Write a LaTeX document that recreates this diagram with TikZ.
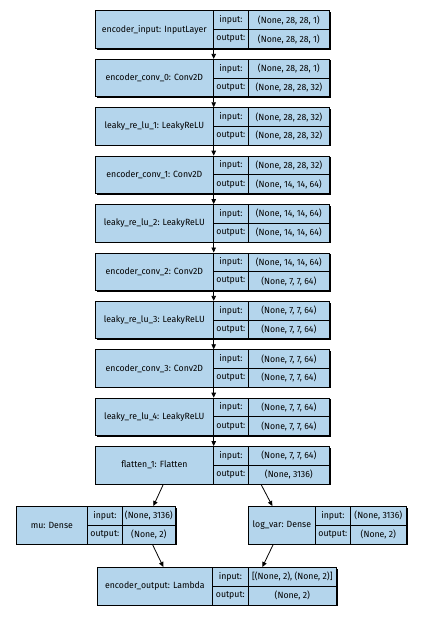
\documentclass[tikz,border=0pt]{standalone}
\usepackage{fontspec}
\setmainfont{Fira Sans}[FakeStretch=0.97]
\usetikzlibrary{arrows.meta,calc}
\definecolor{cellblue}{HTML}{B4D5EC}
\tikzset{
  cell/.style={draw=black, line width=0.7pt, fill=cellblue, inner sep=0pt,
    anchor=north west, font=\fontsize{9}{10}\selectfont, text=black},
  conn/.style={-{Triangle[length=5pt,width=4.5pt]}, line width=0.8pt},
}
\def\bh{37.5}
\newcommand\layerbox[9]{% id, x0,x1,x2,x3, ytop, name, in, out
  \pgfmathsetmacro\wa{#3-#2}\pgfmathsetmacro\wb{#4-#3}\pgfmathsetmacro\wc{#5-#4}
  \pgfmathsetmacro\hh{\bh/2}
  \fill[black] (#2+1.6,#6+1.6) rectangle (#5+1.6,#6+\bh+1.6);
  \node[cell, minimum width=\wa pt, minimum height=\bh pt] (#1) at (#2,#6) {#7};
  \node[cell, minimum width=\wb pt, minimum height=\hh pt] (#1i) at (#3,#6) {input:};
  \node[cell, minimum width=\wb pt, minimum height=\hh pt] (#1o) at (#3,#6+\hh) {output:};
  \node[cell, minimum width=\wc pt, minimum height=\hh pt] (#1iv) at (#4,#6) {#8};
  \node[cell, minimum width=\wc pt, minimum height=\hh pt] (#1ov) at (#4,#6+\hh) {#9};
}
\begin{document}
\begin{tikzpicture}[x=1pt,y=-1pt]
\useasboundingbox (0,0) rectangle (420,644);
\layerbox{L0}{95}{213}{248}{329}{10.5}{encoder\_input: InputLayer}{(None, 28, 28, 1)}{(None, 28, 28, 1)}
\layerbox{L1}{95}{213}{248}{329}{58.9}{encoder\_conv\_0: Conv2D}{(None, 28, 28, 1)}{(None, 28, 28, 32)}
\layerbox{L2}{95}{213}{248}{329}{107.3}{leaky\_re\_lu\_1: LeakyReLU}{(None, 28, 28, 32)}{(None, 28, 28, 32)}
\layerbox{L3}{95}{213}{248}{329}{155.7}{encoder\_conv\_1: Conv2D}{(None, 28, 28, 32)}{(None, 14, 14, 64)}
\layerbox{L4}{95}{213}{248}{329}{204.1}{leaky\_re\_lu\_2: LeakyReLU}{(None, 14, 14, 64)}{(None, 14, 14, 64)}
\layerbox{L5}{95}{213}{248}{329}{252.5}{encoder\_conv\_2: Conv2D}{(None, 14, 14, 64)}{(None, 7, 7, 64)}
\layerbox{L6}{95}{213}{248}{329}{300.9}{leaky\_re\_lu\_3: LeakyReLU}{(None, 7, 7, 64)}{(None, 7, 7, 64)}
\layerbox{L7}{95}{213}{248}{329}{349.3}{encoder\_conv\_3: Conv2D}{(None, 7, 7, 64)}{(None, 7, 7, 64)}
\layerbox{L8}{95}{213}{248}{329}{397.7}{leaky\_re\_lu\_4: LeakyReLU}{(None, 7, 7, 64)}{(None, 7, 7, 64)}
\layerbox{L9}{95}{213}{248}{329}{446.1}{flatten\_1: Flatten}{(None, 7, 7, 64)}{(None, 3136)}
\layerbox{MU}{16}{87}{122}{175}{506}{mu: Dense}{(None, 3136)}{(None, 2)}
\layerbox{LV}{248}{315}{350}{406}{506}{log\_var: Dense}{(None, 3136)}{(None, 2)}
\layerbox{EO}{97}{212}{248}{336}{567}{encoder\_output: Lambda}{[(None, 2), (None, 2)]}{(None, 2)}
\foreach \a/\b in {L0/L1,L1/L2,L2/L3,L3/L4,L4/L5,L5/L6,L6/L7,L7/L8,L8/L9}
  \draw[conn] (\a.south east) -- (\b.north east);
\draw[conn] ([xshift=9pt]L9.south) -- ([xshift=4.5pt]MUiv.north);
\draw[conn] ([xshift=13pt]L9ov.south west) -- ([xshift=-9.5pt]LV.north);
\draw[conn] ([xshift=3.5pt]MUov.south) -- ([xshift=8.5pt]EO.north);
\draw[conn] ([xshift=-8.5pt]LV.south) -- ([xshift=-30pt]EOiv.north);
\end{tikzpicture}
\end{document}
